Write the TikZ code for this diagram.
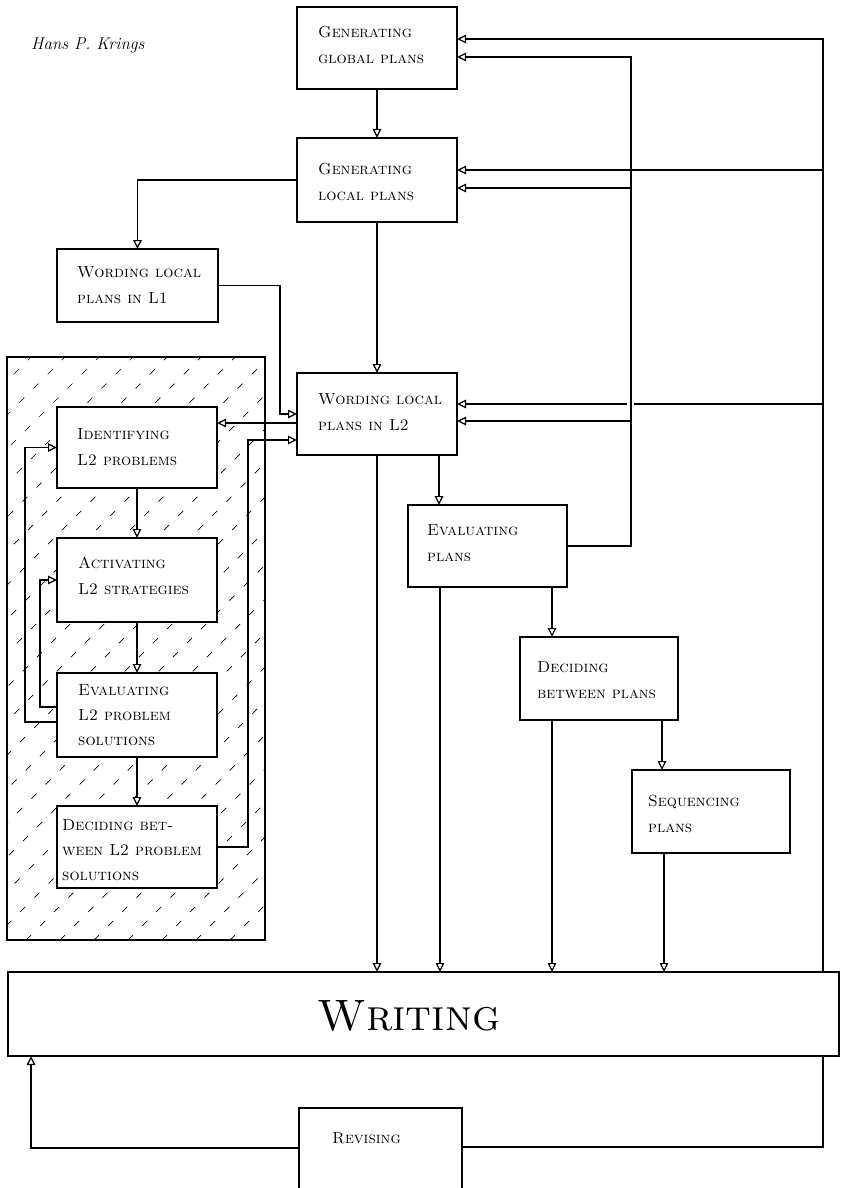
\documentclass[tikz,border=0pt]{standalone}
\usetikzlibrary{arrows.meta,calc}
\begin{document}
\begin{tikzpicture}[x=1pt,y=-1pt,
  pbox/.style={draw, line width=1.3pt, fill=white, inner sep=0pt, outer sep=0pt, anchor=north west},
  lbl/.style={anchor=west, align=left, inner sep=0pt, font=\fontsize{16}{26}\selectfont\scshape},
  conn/.style={line width=1.2pt},
  arr/.style={conn, -{Triangle[open, length=9pt, width=8.5pt]}},
  hatchline/.style={line width=0.7pt, dash pattern=on 7pt off 13pt}]
\useasboundingbox (0,0) rectangle (844,1188);
\clip (0,0) rectangle (844,1188);

% author
\node[font=\fontsize{17}{20}\selectfont\itshape, anchor=west, inner sep=0pt] (au) at (31,45) {Hans P. Krings};

% hatched region
\begin{scope}
  \clip (7,357) rectangle (265,940);
  \foreach \i in {-620,-586,...,280} \draw[hatchline] (\i,940) -- ++(610,-610);
\end{scope}
\draw[line width=1.1pt] (7,357) rectangle (265,940);

% boxes
\node[pbox, minimum width=160pt, minimum height=82pt] (g1) at (297,7) {};
\node[pbox, minimum width=160pt, minimum height=84pt] (g2) at (297,138) {};
\node[pbox, minimum width=161pt, minimum height=73pt] (l1) at (57,249) {};
\node[pbox, minimum width=160pt, minimum height=82pt] (w2) at (297,373) {};
\node[pbox, minimum width=160pt, minimum height=81pt] (id) at (57,407) {};
\node[pbox, minimum width=160pt, minimum height=84pt] (ac) at (57,538) {};
\node[pbox, minimum width=160pt, minimum height=84pt] (el2) at (57,673) {};
\node[pbox, minimum width=160pt, minimum height=82pt] (dl2) at (57,806) {};
\node[pbox, minimum width=159pt, minimum height=82pt] (ep) at (408,505) {};
\node[pbox, minimum width=158pt, minimum height=83pt] (dp) at (520,637) {};
\node[pbox, minimum width=158pt, minimum height=83pt] (sp) at (632,770) {};
\node[pbox, minimum width=831pt, minimum height=84pt] (wr) at (8,972) {};
\node[pbox, minimum width=163pt, minimum height=95pt] (rv) at (299,1108) {};

% texts
\node[lbl] (g1t) at ([xshift=21pt,yshift=3pt]g1.west) {Generating\\global plans};
\node[lbl] (g2t) at ([xshift=21pt,yshift=-2pt]g2.west) {Generating\\local plans};
\node[lbl] (l1t) at ([xshift=20pt]l1.west) {Wording local\\plans in L1};
\node[lbl] (w2t) at ([xshift=21pt,yshift=2pt]w2.west) {Wording local\\plans in L2};
\node[lbl] (idt) at ([xshift=20pt]id.west) {Identifying\\L2 problems};
\node[lbl] (act) at ([xshift=21pt,yshift=4pt]ac.west) {Activating\\L2 strategies};
\node[lbl, font=\fontsize{16}{25}\selectfont\scshape] (el2t) at ([xshift=21pt]el2.west) {Evaluating\\L2 problem\\solutions};
\node[lbl, font=\fontsize{16}{25}\selectfont\scshape] (dl2t) at ([xshift=5pt,yshift=-3pt]dl2.west) {Deciding bet-\\ween L2 problem\\solutions};
\node[lbl] (ept) at ([xshift=19pt,yshift=3pt]ep.west) {Evaluating\\plans};
\node[lbl] (dpt) at ([xshift=17pt,yshift=-2pt]dp.west) {Deciding\\between plans};
\node[lbl] (spt) at ([xshift=16pt,yshift=-2pt]sp.west) {Sequencing\\plans};
\node[font=\fontsize{44}{48}\selectfont\scshape, inner sep=0pt] (wrt) at (409,1016) {Writing};
\node[lbl] (rvt) at ([xshift=33pt,yshift=17.5pt]rv.west) {Revising};

% main column
\draw[arr] (g1.south) -- (g2.north);
\draw[arr] (g2.south) -- (w2.north);
\draw[arr] (g2.west) -| (l1.north);
\draw[arr] (l1.east) -- ++(62,0) |- (w2.west);
\coordinate (w2l) at ([yshift=-9pt]w2.west);
\draw[arr] (w2l) -- (w2l -| id.east);
\coordinate (w2d) at ([yshift=-26pt]w2.west);
\draw[arr] (dl2.east) -- ++(31,0) |- (w2d);

% L2 problem chain
\draw[arr] (id.south) -- (ac.north);
\draw[arr] (ac.south) -- (el2.north);
\draw[arr] (el2.south) -- (dl2.north);
\draw[arr] ([yshift=-7pt]el2.west) -- ++(-32,0) |- (id.west);
\draw[arr] ([yshift=8pt]el2.west) -- ++(-17,0) |- (ac.west);

% to writing
\draw[arr] (w2.south) -- (w2.south |- wr.north);
\coordinate (w2e) at ([xshift=62pt]w2.south);
\draw[arr] (w2e) -- (w2e |- ep.north);
\coordinate (epw) at ([xshift=-47.5pt]ep.south);
\draw[arr] (epw) -- (epw |- wr.north);
\coordinate (epd) at ([xshift=64.5pt]ep.south);
\draw[arr] (epd) -- (epd |- dp.north);
\coordinate (dpw) at ([xshift=-47pt]dp.south);
\draw[arr] (dpw) -- (dpw |- wr.north);
\coordinate (dps) at ([xshift=63pt]dp.south);
\draw[arr] (dps) -- (dps |- sp.north);
\coordinate (spw) at ([xshift=-47pt]sp.south);
\draw[arr] (spw) -- (spw |- wr.north);

% outer feedback from writing
\coordinate (ob) at ([xshift=399.5pt]wr.north);
\coordinate (g1a) at ([yshift=9pt]g1.east);
\coordinate (g2a) at ([yshift=10pt]g2.east);
\coordinate (w2a) at ([yshift=10pt]w2.east);
\draw[arr] (ob) |- (g1a);
\draw[arr] (ob |- g2a) -- (g2a);
\draw[arr] (ob |- w2a) -- (w2a);

% inner feedback from evaluating plans
\coordinate (ib) at ([xshift=64pt]ep.east);
\coordinate (g1b) at ([yshift=-9pt]g1.east);
\coordinate (g2b) at ([yshift=-8pt]g2.east);
\coordinate (w2b) at ([yshift=-7pt]w2.east);
\fill[white] ($(ib |- w2a)+(-4,-2.5)$) rectangle ++(7,5);
\draw[arr] (ep.east) -- (ib) |- (g1b);
\draw[arr] (ib |- g2b) -- (g2b);
\draw[arr] (ib |- w2b) -- (w2b);

% revising loop
\coordinate (rvl) at ([yshift=7.5pt]rv.west);
\coordinate (wl) at ([xshift=-392.5pt]wr.south);
\draw[arr] (rvl) -| (wl);
\coordinate (rvr) at ([yshift=8.5pt]rv.east);
\coordinate (wrr) at ([xshift=399.5pt]wr.south);
\draw[conn] (wrr) |- (rvr);
\end{tikzpicture}
\end{document}
